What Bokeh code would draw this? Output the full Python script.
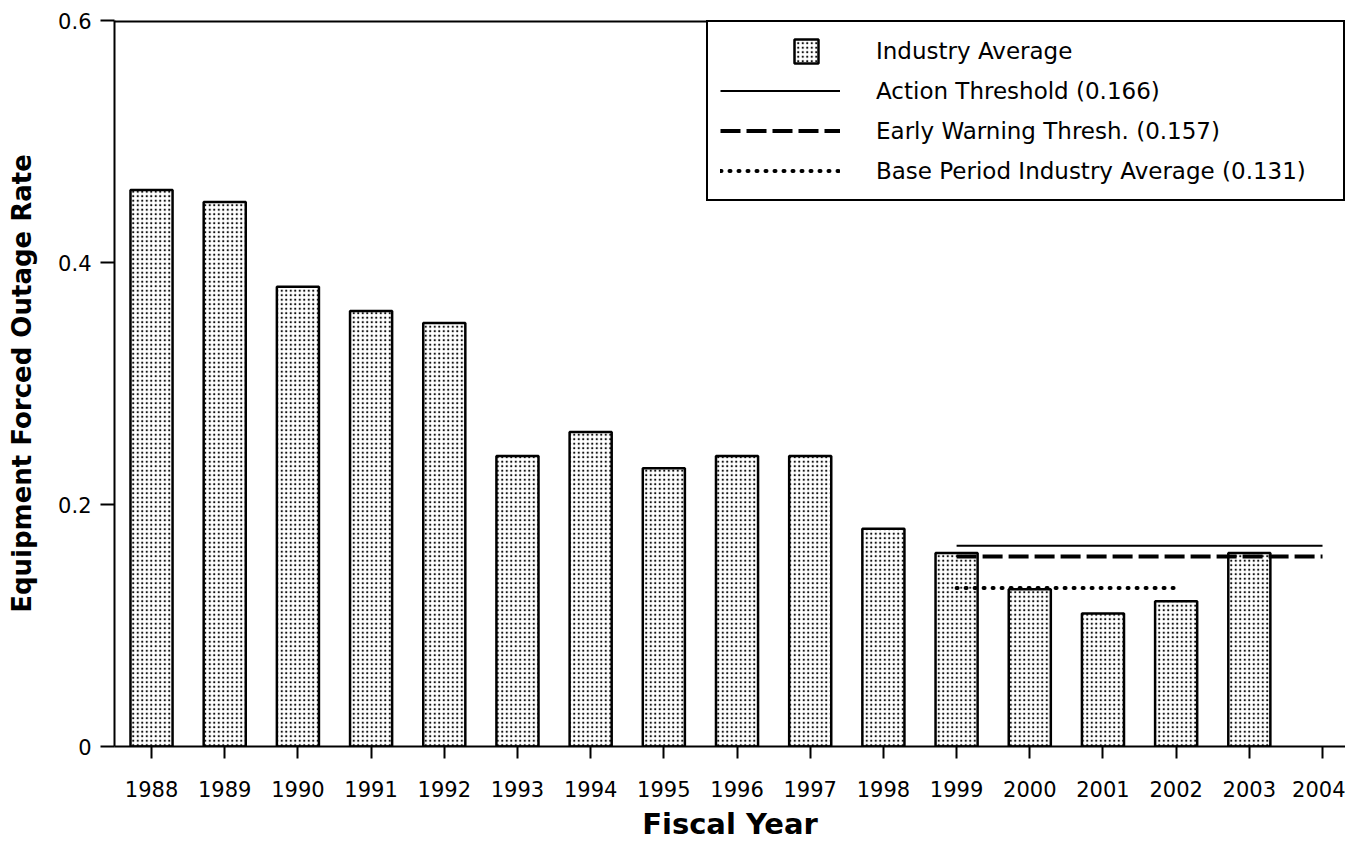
from bokeh.plotting import figure
from bokeh.models import FixedTicker, Span, Legend, LegendItem
from bokeh.embed import file_html
from bokeh.resources import INLINE

# ---- data ----
years = [1988, 1989, 1990, 1991, 1992, 1993, 1994, 1995,
         1996, 1997, 1998, 1999, 2000, 2001, 2002, 2003]
rates = [0.46, 0.45, 0.38, 0.36, 0.35, 0.24, 0.26, 0.23,
         0.24, 0.24, 0.18, 0.16, 0.13, 0.11, 0.12, 0.16]
tick_years = list(range(1988, 2005))
tick_labels = [str(y) for y in tick_years]
y_ticks = [0, 0.2, 0.4, 0.6]
y_tick_labels = ["0", "0.2", "0.4", "0.6"]

action_x = [1999, 2004]
action_y = [0.166, 0.166]
early_x = [1999, 2004]
early_y = [0.157, 0.157]
base_x = [1999, 2002]
base_y = [0.131, 0.131]

FONT = "DejaVu Sans"
W, H = 1345, 845

p = figure(width=W, height=H, x_range=(1987.494, 2004.314), y_range=(0, 0.6),
           output_backend="svg", toolbar_location=None,
           min_border_left=114, min_border_top=20, min_border_right=0, min_border_bottom=99)
p.outline_line_color = None
p.xgrid.grid_line_color = None
p.ygrid.grid_line_color = None
p.background_fill_color = "white"

# top border line (half of it is clipped by the frame edge)
p.add_layout(Span(location=0.6, dimension="width", line_color="black", line_width=4))

STIPPLE = dict(hatch_pattern="dot", hatch_color="#111111", hatch_scale=4.5, hatch_weight=2.8)

bars = p.vbar(x=years, top=rates, width=0.575, bottom=0,
              fill_color="white", line_color="black", line_width=2.5, **STIPPLE)

# empty renderer: legend label for the bars (swatch drawn by a second legend)
blank = p.scatter(x=[], y=[], marker="square", size=1, fill_alpha=0, line_alpha=0)

l_action = p.line(action_x, action_y, line_color="black", line_width=2)
l_early = p.line(early_x, early_y, line_color="black", line_width=4, line_dash="20 6")
l_base = p.line(base_x, base_y, line_color="black", line_width=4, line_dash="1 8", line_cap="round")

legend = Legend(items=[
    LegendItem(label="Industry Average", renderers=[blank]),
    LegendItem(label="Action Threshold (0.166)", renderers=[l_action]),
    LegendItem(label="Early Warning Thresh. (0.157)", renderers=[l_early]),
    LegendItem(label="Base Period Industry Average (0.131)", renderers=[l_base]),
], location="top_right", margin=0, padding=12, spacing=7,
    glyph_width=120, glyph_height=33, label_height=33, label_standoff=36, label_width=455,
    border_line_color="black", border_line_width=2, border_line_alpha=1, background_fill_alpha=1,
    label_text_font=FONT, label_text_font_size="23px", label_text_color="black")
p.add_layout(legend)

# small stippled square swatch of the bars, placed in the first legend row
swatch_legend = Legend(items=[LegendItem(label=" ", renderers=[bars])],
                       location=(677, 680), margin=0, padding=0, spacing=0,
                       glyph_width=30, glyph_height=30, label_height=30,
                       label_standoff=0, label_width=0,
                       border_line_color=None, background_fill_alpha=0,
                       label_text_font_size="1px")
p.add_layout(swatch_legend)

# axes
p.xaxis.ticker = FixedTicker(ticks=tick_years)
p.xaxis.major_label_overrides = dict(zip(tick_years, tick_labels))
p.xaxis.axis_label = "Fiscal Year"
p.yaxis.ticker = FixedTicker(ticks=y_ticks)
p.yaxis.major_label_overrides = dict(zip(y_ticks, y_tick_labels))
p.yaxis.axis_label = "Equipment Forced Outage Rate"

for ax in (p.xaxis[0], p.yaxis[0]):
    ax.axis_line_color = "black"
    ax.axis_line_width = 2
    ax.major_tick_line_color = "black"
    ax.major_tick_line_width = 2
    ax.major_tick_in = 0
    ax.minor_tick_line_color = None
    ax.major_label_text_font = FONT
    ax.major_label_text_font_size = "21px"
    ax.major_label_text_color = "black"
    ax.axis_label_text_font = FONT
    ax.axis_label_text_font_style = "bold"
    ax.axis_label_text_color = "black"

p.xaxis.axis_label_text_font_size = "29px"
p.yaxis.axis_label_text_font_size = "26px"
p.xaxis.major_tick_out = 12
p.xaxis.major_label_standoff = 22
p.xaxis.axis_label_standoff = 7
p.yaxis.major_tick_out = 14
p.yaxis.major_label_standoff = 9
p.yaxis.axis_label_standoff = 18

open("out.html", "w").write(file_html(p, INLINE))
